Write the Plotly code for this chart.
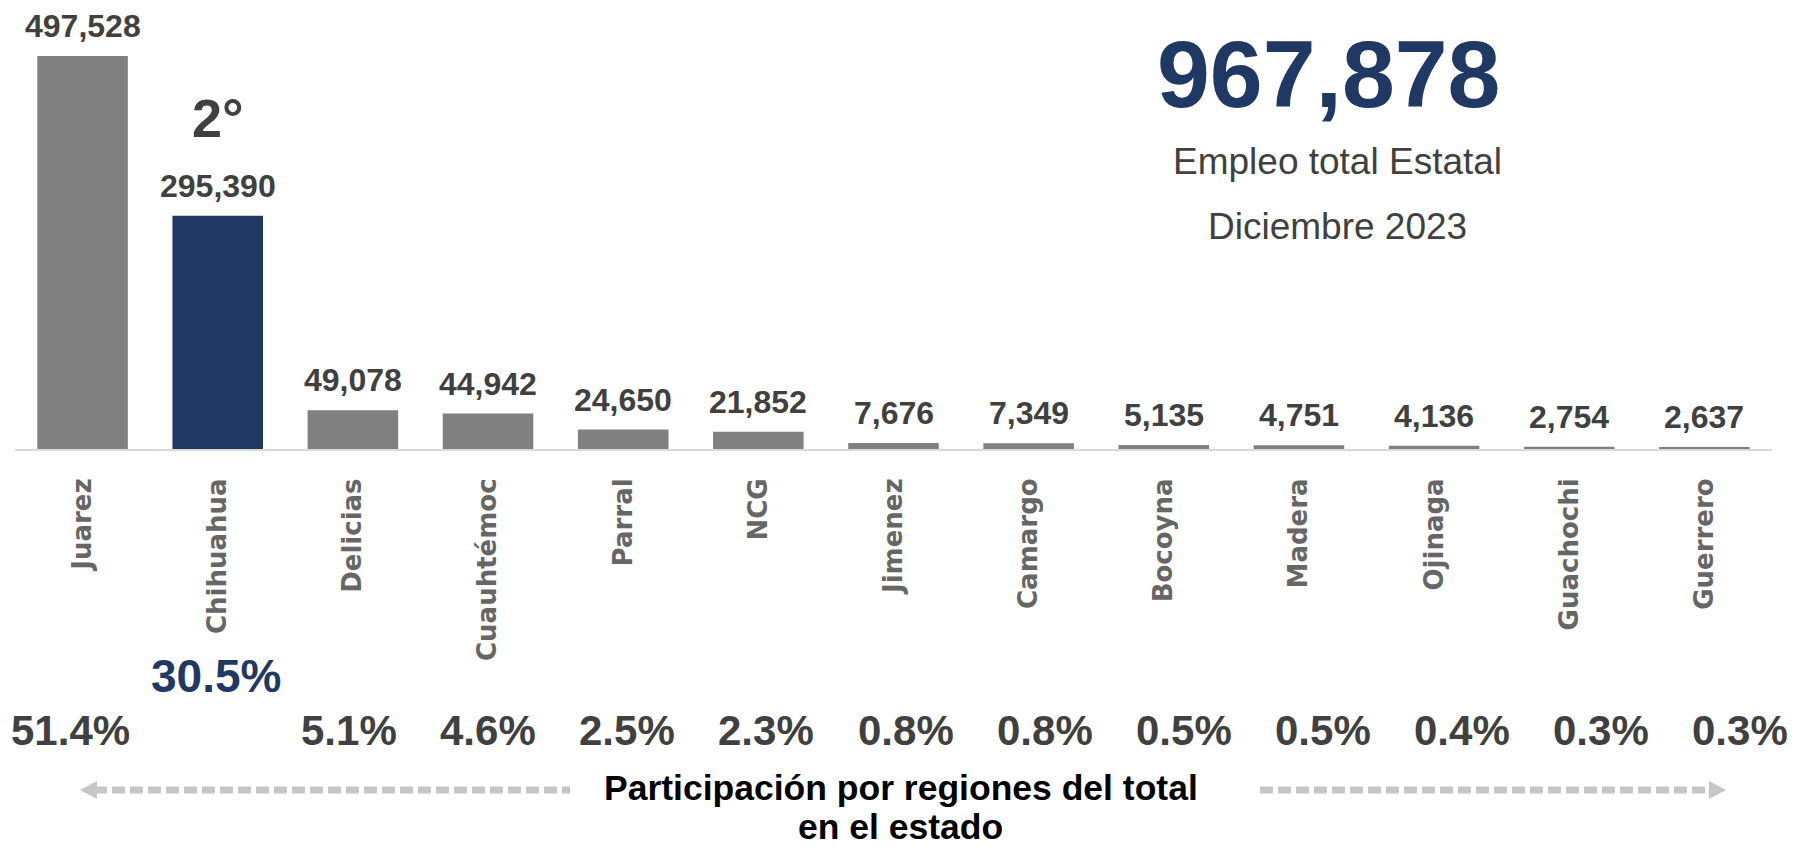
import plotly.graph_objects as go

# Empleo por region, Chihuahua - diciembre 2023
regiones = ["Juarez", "Chihuahua", "Delicias", "Cuauhtémoc", "Parral", "NCG", "Jimenez",
            "Camargo", "Bocoyna", "Madera", "Ojinaga", "Guachochi", "Guerrero"]
empleo = [497528, 295390, 49078, 44942, 24650, 21852, 7676, 7349, 5135, 4751, 4136, 2754, 2637]
participacion = ["51.4%", "30.5%", "5.1%", "4.6%", "2.5%", "2.3%", "0.8%",
                 "0.8%", "0.5%", "0.5%", "0.4%", "0.3%", "0.3%"]
total_estatal = 967878
destacada = "Chihuahua"
lugar = "2°"

GRIS = "#808080"
AZUL = "#1f3864"
TEXTO = "#404040"
FONT = "Liberation Sans, Arial, sans-serif"

# the page body has an 8px margin, so the figure is made 8px smaller
OFF = 8
W, H = 1797 - OFF, 853 - OFF
# plot area in window pixels
TOP, BOTTOM, LEFT, RIGHT = 10, 449, 15, 1772


def py(pix):
    return (BOTTOM - pix) / (BOTTOM - TOP)


def px_(pix):
    return (pix - LEFT) / (RIGHT - LEFT)


colores = [AZUL if r == destacada else GRIS for r in regiones]

fig = go.Figure(go.Bar(x=regiones, y=empleo, marker_color=colores, marker_line_width=0,
                       hoverinfo="skip"))

ann = []
# etiquetas de valor sobre cada barra
for r, v in zip(regiones, empleo):
    ann.append(dict(x=r, y=v, xref="x", yref="y", text=f"{v:,}", showarrow=False,
                    xanchor="center", yanchor="middle", yshift=30,
                    font=dict(family=FONT, size=32, color=TEXTO, weight="bold")))

# participacion en el total
for i, (r, p) in enumerate(zip(regiones, participacion)):
    if r == destacada:
        ann.append(dict(x=r, y=py(676), xref="x", yref="paper", text=p, showarrow=False,
                        xanchor="center", yanchor="middle", xshift=-2,
                        font=dict(family=FONT, size=46, color=AZUL, weight="bold")))
    else:
        ann.append(dict(x=r, y=py(730), xref="x", yref="paper", text=p, showarrow=False,
                        xanchor="center", yanchor="middle", xshift=-12 + 4 * i,
                        font=dict(family=FONT, size=42, color=TEXTO, weight="bold")))

ann.append(dict(x=destacada, y=py(118), xref="x", yref="paper", text=lugar, showarrow=False,
                xanchor="center", yanchor="middle",
                font=dict(family=FONT, size=54, color=TEXTO, weight="bold")))

ann.append(dict(x=px_(1328), y=py(74), xref="paper", yref="paper", text=f"{total_estatal:,}",
                showarrow=False, xanchor="center", yanchor="middle",
                font=dict(family=FONT, size=95, color=AZUL, weight="bold")))
ann.append(dict(x=px_(1337), y=py(161), xref="paper", yref="paper", text="Empleo total Estatal",
                showarrow=False, xanchor="center", yanchor="middle",
                font=dict(family=FONT, size=37, color=TEXTO)))
ann.append(dict(x=px_(1337), y=py(227), xref="paper", yref="paper", text="Diciembre 2023",
                showarrow=False, xanchor="center", yanchor="middle",
                font=dict(family=FONT, size=37, color=TEXTO)))

ann.append(dict(x=px_(901), y=py(788), xref="paper", yref="paper",
                text="Participación por regiones del total", showarrow=False,
                xanchor="center", yanchor="middle",
                font=dict(family=FONT, size=35.5, color="#000000", weight="bold")))
ann.append(dict(x=px_(901), y=py(827), xref="paper", yref="paper",
                text="en el estado", showarrow=False, xanchor="center", yanchor="middle",
                font=dict(family=FONT, size=35.5, color="#000000", weight="bold")))

# flechas punteadas
FLECHA = "#c6c6c6"
ya = py(790)
hh = (py(781) - py(799)) / 2
shapes = [
    dict(type="line", xref="paper", yref="paper", x0=px_(94), x1=px_(570), y0=ya, y1=ya,
         line=dict(color=FLECHA, width=7, dash="13px,5px")),
    dict(type="path", xref="paper", yref="paper", line_width=0, fillcolor=FLECHA,
         path=f"M {px_(80)} {ya} L {px_(97)} {ya + hh} L {px_(97)} {ya - hh} Z"),
    dict(type="line", xref="paper", yref="paper", x0=px_(1260), x1=px_(1712), y0=ya, y1=ya,
         line=dict(color=FLECHA, width=7, dash="13px,5px")),
    dict(type="path", xref="paper", yref="paper", line_width=0, fillcolor=FLECHA,
         path=f"M {px_(1726)} {ya} L {px_(1709)} {ya + hh} L {px_(1709)} {ya - hh} Z"),
]

fig.update_layout(
    width=W, height=H,
    margin=dict(l=LEFT - OFF, r=W - (RIGHT - OFF), t=TOP - OFF, b=H - (BOTTOM - OFF),
                autoexpand=False),
    plot_bgcolor="white", paper_bgcolor="white",
    bargap=0.33, showlegend=False,
    annotations=ann, shapes=shapes,
)
# fixed range, otherwise the annotations widen the autorange
fig.update_xaxes(type="category", range=[-0.5, len(regiones) - 0.5], tickangle=-90,
                 showline=True, linecolor="#d9d9d9", linewidth=2,
                 showgrid=False, ticks="", ticklabelstandoff=17, automargin=False,
                 tickfont=dict(family="DejaVu Sans", size=26, color="#666666", weight="bold"))
fig.update_yaxes(visible=False, range=[0, 555770], showgrid=False, automargin=False)

fig.write_html("out.html")
